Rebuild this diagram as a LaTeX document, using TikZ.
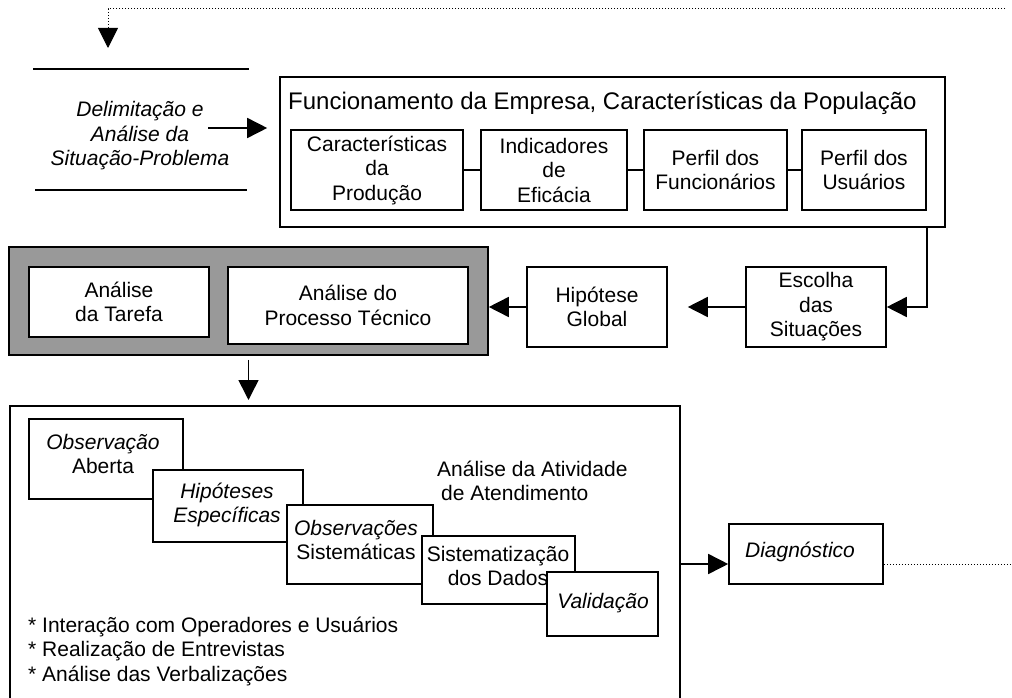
\documentclass[tikz,border=0pt]{standalone}
\usepackage{fontspec}
\setmainfont{Liberation Sans}
\usetikzlibrary{arrows.meta}
\definecolor{greyfill}{RGB}{153,153,153}
\begin{document}
\begin{tikzpicture}[x=1pt,y=-1pt,
  txt/.style={font=\fontsize{21}{24.5}\selectfont, inner sep=0pt},
  ittxt/.style={font=\fontsize{21}{24.5}\selectfont\itshape, inner sep=0pt},
  bx/.style={draw, line width=1.6pt, fill=white, align=center, inner sep=0pt, font=\fontsize{21}{24.5}\selectfont},
  ln/.style={line width=1.6pt},
  arr/.style={line width=1.6pt, -{Triangle[length=20pt,width=20pt]}},
  dotl/.style={line width=1pt, dash pattern=on 1pt off 2pt}]
\useasboundingbox (0,0) rectangle (1012,698);

% feedback loop (top)
\coordinate (tr) at (1005,9);
\coordinate (tl) at (108,48);
\draw[dotl, -{Triangle[length=20pt,width=20pt]}] (tr) -| (tl);

% Delimitation
\draw[ln] (33,69) -- (249,69);
\draw[ln] (35,190) -- (247,190);
\node[ittxt, align=center] (delim) at (140,136) {Delimitação e\\Análise da\\Situação-Problema};

% top box
\node[bx, minimum width=665pt, minimum height=150pt] (T) at (612.5,152) {};
\node[inner sep=0pt, font=\fontsize{24}{28}\selectfont, anchor=base west] (Tt) at (288,110) {Funcionamento da Empresa, Características da População};
\node[bx, minimum width=172pt, minimum height=80pt] (c1) at (377,170) {Características\\da\\Produção};
\node[bx, minimum width=146pt, minimum height=80pt] (c2) at (554,170) {Indicadores\\de\\Eficácia};
\node[bx, minimum width=143pt, minimum height=80pt] (c3) at (715.5,170) {Perfil dos\\Funcionários};
\node[bx, minimum width=124pt, minimum height=80pt] (c4) at (864,170) {Perfil dos\\Usuários};
\draw[ln] (c1) -- (c2);
\draw[ln] (c2) -- (c3);
\draw[ln] (c3) -- (c4);

\coordinate (da) at (208,128);
\draw[arr, shorten >=12pt] (da) -- (T.west |- da);

% grey box
\node[draw, line width=1.6pt, fill=greyfill, minimum width=479pt, minimum height=108pt] (G) at (248.5,301) {};
\node[bx, minimum width=180pt, minimum height=70pt] (g1) at (119,302) {Análise\\da Tarefa};
\node[bx, minimum width=240pt, minimum height=77pt] (g2) at (348,305.5) {Análise do\\Processo Técnico};

\node[bx, minimum width=140pt, minimum height=80pt] (Hip) at (597,307) {Hipótese\\Global};
\node[bx, minimum width=140pt, minimum height=80pt] (Esc) at (816,307) {Escolha\\das\\Situações};

\draw[arr] (T.south -| c4.east) |- (Esc.east);
\draw[arr, shorten >=20pt] (Esc.west) -- (Hip.east);
\draw[arr] (Hip.west) -- (Hip.west -| G.east);

% bottom box
\node[bx, minimum width=670pt, minimum height=320pt, anchor=north west] (B) at (9,405) {};
\draw[arr, shorten <=4pt, shorten >=5pt] (G.south) -- (G.south |- B.north);

\node[bx, minimum width=154pt, minimum height=80pt] (o1) at (106,459) {};
\node[txt, align=center] (o1t) at (103,454) {\textit{Observação}\\Aberta};
\node[bx, minimum width=150pt, minimum height=72pt] (o2) at (228,506) {};
\node[txt, align=center] (o2t) at (227,505) {\textit{Hipóteses}\\\textit{Específicas}};
\node[bx, minimum width=146pt, minimum height=79pt] (o3) at (360,544.5) {};
\node[txt, align=center] (o3t) at (356,540) {\textit{Observações}\\Sistemáticas};
\node[bx, minimum width=153pt, minimum height=68pt] (o4) at (498.5,570) {};
\node[txt, align=center] (o4t) at (498,566) {Sistematização\\dos Dados};
\node[bx, minimum width=111pt, minimum height=64pt] (o5) at (602.5,604) {};
\node[ittxt] (o5t) at (603,603) {Validação};

\node[txt, align=left, anchor=west] (atv) at (437,481) {Análise da Atividade\\\hspace*{4pt}de Atendimento};
\node[txt, align=left, anchor=west] (bul) at (28,651) {* Interação com Operadores e Usuários\\* Realização de Entrevistas\\* Análise das Verbalizações};

% diagnostic
\node[bx, minimum width=154pt, minimum height=60pt] (Dg) at (806,554) {};
\node[ittxt] (Dgt) at (800,552) {Diagnóstico};
\coordinate (ay) at (0,564);
\draw[arr] (B.east |- ay) -- (Dg.west |- ay);
\coordinate (rt) at (1012,564);
\draw[dotl] (Dg.east |- ay) -- (rt);
\end{tikzpicture}
\end{document}
